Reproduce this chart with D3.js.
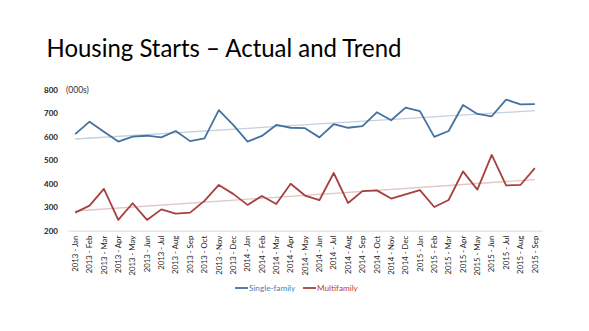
<!DOCTYPE html>
<html><head><meta charset="utf-8">
<script src="https://cdn.jsdelivr.net/npm/d3@7"></script>
<style>
body{margin:0;background:#fff;}
svg{display:block;font-family:Lato,"Open Sans",sans-serif;}
</style></head>
<body>
<svg id="c" width="589" height="331"></svg>
<script>
const categories = ["2013 - Jan","2013 - Feb","2013 - Mar","2013 - Apr","2013 - May","2013 - Jun","2013 - Jul","2013 - Aug","2013 - Sep","2013 - Oct","2013 - Nov","2013 - Dec",
"2014 - Jan","2014 - Feb","2014 - Mar","2014 - Apr","2014 - May","2014 - Jun","2014 - Jul","2014 - Aug","2014 - Sep","2014 - Oct","2014 - Nov","2014 - Dec",
"2015 - Jan","2015 - Feb","2015 - Mar","2015 - Apr","2015 - May","2015 - Jun","2015 - Jul","2015 - Aug","2015 - Sep"];
const singleFamily = [612,665,622,580,601,605,598,625,582,594,714,651,580,604,651,639,637,598,654,639,646,705,671,725,710,600,625,736,698,688,759,739,740];
const multiFamily = [277,307,378,246,317,246,291,273,277,327,395,357,310,348,314,400,350,330,446,318,369,372,337,355,373,301,331,453,375,523,393,395,467];
const trendSingle = [591,712];
const trendMulti = [284,418];
const yTicks = [200,300,400,500,600,700,800];
const seriesNames = ["Single-family","Multifamily"];

const svg = d3.select("#c");
const x = d3.scaleBand().domain(categories).range([68,542]);
const y = d3.scaleLinear().domain([200,800]).range([230.7,90]);
const cx = d => x(d) + x.bandwidth()/2;

// title
svg.append("text").attr("x",46.5).attr("y",56.7).attr("font-size",24.5)
  .attr("textLength",355).attr("lengthAdjust","spacingAndGlyphs")
  .attr("fill","#000").text("Housing Starts \u2013 Actual and Trend");

// y labels
svg.append("g").selectAll("text").data(yTicks).join("text")
  .attr("x",58).attr("y",d=>y(d)).attr("dy","0.35em").attr("text-anchor","end")
  .attr("font-size",8).attr("font-weight","bold").attr("fill","#222").text(d=>d);
svg.append("text").attr("x",66).attr("y",y(800)).attr("dy","0.35em")
  .attr("font-size",8.5).attr("fill","#333").text("(000s)");

// baseline axis
const xAxis = d3.axisBottom(x).tickSize(0).tickPadding(0);
const gx = svg.append("g").attr("transform",`translate(0,${y(200)})`).call(xAxis);
gx.select(".domain").attr("stroke","#d9d9d9").attr("stroke-width",1);
gx.selectAll(".tick text").attr("font-family","Lato,'Open Sans',sans-serif")
  .attr("font-size",7.8).attr("fill","#222")
  .attr("transform","rotate(-90)").attr("text-anchor","end")
  .attr("x",-5).attr("y",0).attr("dy","0.35em");

// trend lines
const first = categories[0], last = categories[categories.length-1];
const trendLine = d3.line().x(d=>cx(d[0])).y(d=>y(d[1]));
svg.append("path").attr("d",trendLine([[first,trendSingle[0]],[last,trendSingle[1]]]))
  .attr("fill","none").attr("stroke","#c4d0dd").attr("stroke-width",1.3);
svg.append("path").attr("d",trendLine([[first,trendMulti[0]],[last,trendMulti[1]]]))
  .attr("fill","none").attr("stroke","#e0c6c6").attr("stroke-width",1.3);

// series lines
const line = d3.line().x((d,i)=>cx(categories[i])).y(d=>y(d));
svg.append("path").attr("d",line(singleFamily)).attr("fill","none")
  .attr("stroke","#4472a0").attr("stroke-width",1.8).attr("stroke-linejoin","round");
svg.append("path").attr("d",line(multiFamily)).attr("fill","none")
  .attr("stroke","#a5403e").attr("stroke-width",1.8).attr("stroke-linejoin","round");

// legend
const leg = [{name:seriesNames[0],color:"#4472a0",x:235,tc:"#4a7fb0"},{name:seriesNames[1],color:"#a5403e",x:303,tc:"#b8403e"}];
const lg = svg.append("g").selectAll("g").data(leg).join("g");
lg.append("line").attr("x1",d=>d.x).attr("x2",d=>d.x+13).attr("y1",288).attr("y2",288)
  .attr("stroke",d=>d.color).attr("stroke-width",1.8);
lg.append("text").attr("x",d=>d.x+14).attr("y",288).attr("dy","0.35em")
  .attr("font-size",8.2).attr("fill",d=>d.tc).text(d=>d.name);
</script>
</body></html>
